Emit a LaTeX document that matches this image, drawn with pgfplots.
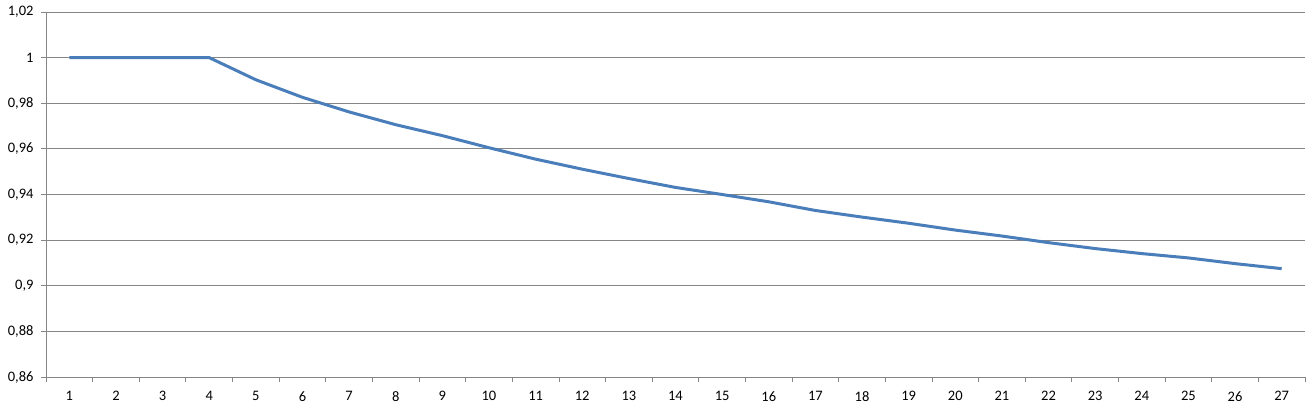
\documentclass[border=0pt]{standalone}
\usepackage{pgfplots}
\pgfplotsset{compat=1.18}
\usepackage{fontspec}
\setmainfont{Carlito}
\definecolor{series}{RGB}{74,126,187}
\definecolor{gridgray}{RGB}{134,134,134}

\begin{document}
\begin{tikzpicture}
% canvas of the reference: plot box 1259 x 365, margins around it
\path[use as bounding box, fill=white] (-46bp,-39bp) rectangle (1270bp,377bp);
\begin{axis}[
    at={(0,0)}, anchor=south west,
    scale only axis,
    width=1259bp, height=365bp,
    xmin=0.5, xmax=27.5,
    ymin=0.86, ymax=1.02,
    axis x line*=bottom,
    axis y line*=left,
    axis line style={gridgray, line width=0.8bp},
    xtick={0.5,1.5,...,27.5},
    x tick label as interval,
    xticklabels={1,2,3,4,5,6,7,8,9,10,11,12,13,14,15,16,17,18,19,20,21,22,23,24,25,26,27},
    ytick={0.86,0.88,0.90,0.92,0.94,0.96,0.98,1.00,1.02},
    /pgf/number format/assume math mode=true,
    ymajorgrids,
    grid style={gridgray, line width=0.8bp},
    tick align=outside,
    major tick length=5bp,
    tick style={gridgray, line width=0.8bp},
    tick label style={font=\fontsize{14.5bp}{17bp}\selectfont, black},
    xticklabel style={yshift=-6bp},
    yticklabel style={xshift=-4bp,
        /pgf/number format/fixed,
        /pgf/number format/precision=2,
        /pgf/number format/use comma},
    clip=false,
]
\addplot[series, line width=3bp, line join=round, mark=none] coordinates {
    (1,1.000) (2,1.000) (3,1.000) (4,1.000) (5,0.9903) (6,0.9826)
    (7,0.9762) (8,0.9706) (9,0.9658) (10,0.9605) (11,0.9555) (12,0.9511)
    (13,0.9470) (14,0.9431) (15,0.9400) (16,0.9368) (17,0.9330) (18,0.9301)
    (19,0.9274) (20,0.9244) (21,0.9218) (22,0.9189) (23,0.9163) (24,0.9141)
    (25,0.9122) (26,0.9097) (27,0.9075)
};
\end{axis}
\end{tikzpicture}
\end{document}
